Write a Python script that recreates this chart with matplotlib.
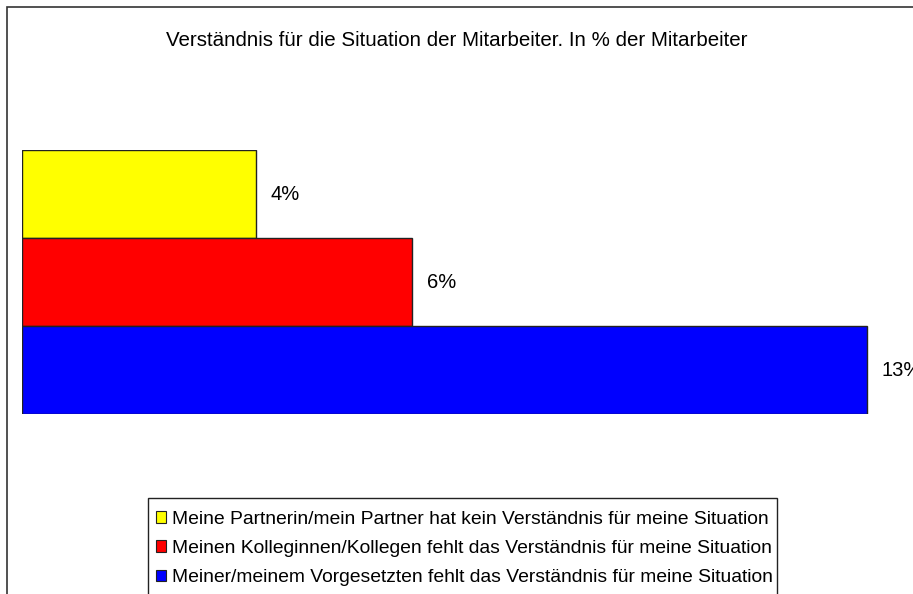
import matplotlib.pyplot as plt
from matplotlib.patches import Rectangle, Patch

plt.rcParams['font.family'] = ['Liberation Sans', 'DejaVu Sans']

title = "Verständnis für die Situation der Mitarbeiter. In % der Mitarbeiter"
categories = [
    "Meine Partnerin/mein Partner hat kein Verständnis für meine Situation",
    "Meinen Kolleginnen/Kollegen fehlt das Verständnis für meine Situation",
    "Meiner/meinem Vorgesetzten fehlt das Verständnis für meine Situation",
]
values = [3.6, 6.0, 13.0]
labels = ["4%", "6%", "13%"]
colors = ["#ffff00", "#ff0000", "#0000ff"]

W, H = 913, 594
fig = plt.figure(figsize=(W / 100, H / 100), dpi=100)

# outer frame (runs off the right and bottom edges)
fig.patches.append(Rectangle((7 / W, -0.05), 1.1, 1 - 7 / H + 0.05,
                             transform=fig.transFigure, fill=False,
                             edgecolor="#333333", linewidth=1.2))

ax = fig.add_axes([22 / W, 1 - 414 / H, (W - 22) / W, 264 / H])
ypos = [2, 1, 0]
for y, v, c, lab in zip(ypos, values, colors, labels):
    ax.barh(y, v, height=1.0, color=c, edgecolor="#222222", linewidth=1.0)
    ax.annotate(lab, (v, y), xytext=(10.5, 0), textcoords="offset points",
                va="center", ha="left", fontsize=14.5, annotation_clip=False)
ax.set_xlim(0, (W - 22) / 65.0)
ax.set_ylim(-0.5, 2.5)
ax.axis("off")

fig.text(0.5, 1 - 40 / H, title, ha="center", va="center", fontsize=14.8)

# legend box (cut off at the bottom)
fig.patches.append(Rectangle((148 / W, -0.05), (777 - 148) / W, 1 - 498 / H + 0.05,
                             transform=fig.transFigure, fill=False,
                             edgecolor="#222222", linewidth=1.0))
handles = [Patch(facecolor=c, edgecolor="#222222", linewidth=0.8) for c in colors]
fig.legend(handles, categories, loc="upper left",
           bbox_to_anchor=(149 / W, 1 - 504 / H), frameon=False,
           fontsize=13.9, handlelength=0.55, handleheight=0.55,
           handletextpad=0.3, labelspacing=0.64, borderpad=0.15,
           borderaxespad=0.2)

fig.savefig("out.png", dpi=100)
